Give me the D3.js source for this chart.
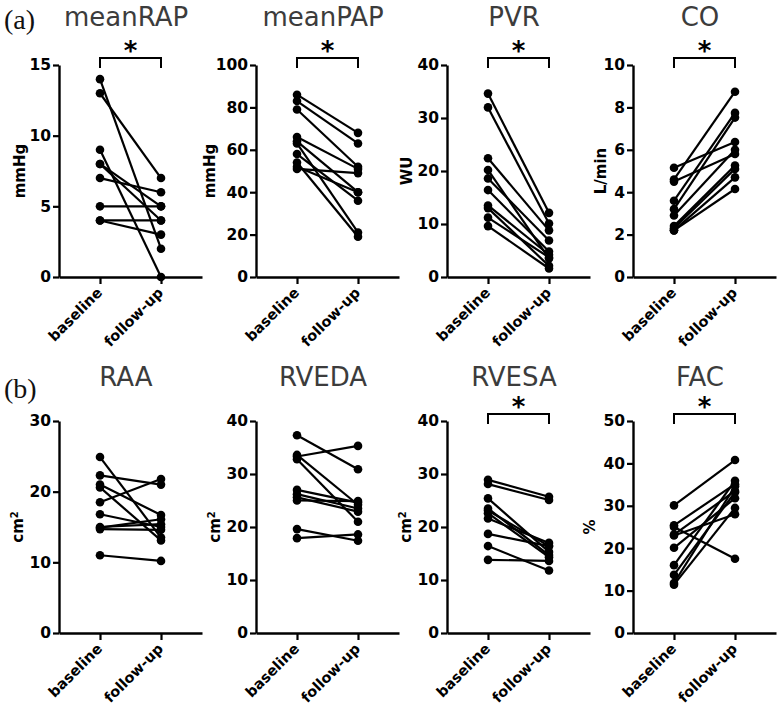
<!DOCTYPE html>
<html><head><meta charset="utf-8">
<script src="https://cdn.jsdelivr.net/npm/d3@7"></script>
<style>body{margin:0;background:#fff}</style></head>
<body>
<script>
// ---------- data ----------
const groups = ["baseline", "follow-up"];
const titles = ["meanRAP", "meanPAP", "PVR", "CO", "RAA", "RVEDA", "RVESA", "FAC"];
const units = ["mmHg", "mmHg", "WU", "L/min", "cm2", "cm2", "cm2", "%"];
const yMaxes = [15, 100, 40, 10, 30, 40, 40, 50];
const yTickSteps = [5, 20, 10, 2, 10, 10, 10, 10];
const significant = [true, true, true, true, false, false, true, true];
const panelLabels = ["(a)", "(b)"];

const meanRAP_baseline = [14, 13, 9, 8, 8, 7, 5, 4, 4];
const meanRAP_followup = [2, 7, 0, 5, 4, 6, 5, 4, 3];
const meanPAP_baseline = [86, 83, 79, 66, 64, 63, 58, 54, 52, 51];
const meanPAP_followup = [68, 63, 52, 51, 40, 21, 36, 19, 40, 49];
const PVR_baseline = [34.6, 32, 22.4, 20.2, 18.6, 16.4, 13.5, 13.0, 11.2, 9.6];
const PVR_followup = [12.1, 10.1, 8.8, 3.5, 6.9, 4.8, 4.2, 2.1, 3.7, 1.6];
const CO_baseline = [5.15, 4.6, 4.5, 3.6, 3.2, 2.9, 2.4, 2.3, 2.2, 2.2];
const CO_followup = [6.37, 8.74, 5.8, 7.74, 7.52, 6.0, 5.26, 5.1, 4.7, 4.15];
const RAA_baseline = [24.9, 22.3, 21.0, 20.6, 18.5, 16.8, 15.0, 14.9, 14.7, 11.0];
const RAA_followup = [13.5, 21.0, 16.7, 13.1, 21.8, 15.0, 15.4, 16.1, 14.6, 10.2];
const RVEDA_baseline = [37.3, 33.3, 33.6, 32.8, 27.0, 26.2, 25.6, 25.0, 19.6, 17.9];
const RVEDA_followup = [30.9, 35.3, 24.2, 21.0, 24.6, 23.5, 22.9, 24.9, 17.4, 18.6];
const RVESA_baseline = [28.9, 28.1, 25.4, 23.5, 23.1, 22.6, 21.6, 18.7, 16.4, 13.8];
const RVESA_followup = [25.7, 25.1, 15.3, 14.7, 16.4, 14.3, 17.0, 16.4, 11.8, 13.6];
const FAC_baseline = [30.1, 25.4, 25.0, 23.2, 23.0, 20.1, 16.0, 13.7, 11.8, 11.4];
const FAC_followup = [40.8, 35.1, 17.5, 33.5, 28.0, 31.8, 35.9, 33.2, 34.6, 29.5];

const baselines = [meanRAP_baseline, meanPAP_baseline, PVR_baseline, CO_baseline,
                   RAA_baseline, RVEDA_baseline, RVESA_baseline, FAC_baseline];
const followups = [meanRAP_followup, meanPAP_followup, PVR_followup, CO_followup,
                   RAA_followup, RVEDA_followup, RVESA_followup, FAC_followup];

// ---------- layout ----------
const W = 779, H = 706;
const axisXs = [59, 256, 447, 633];
const rowTop = [65, 421], rowZero = [277, 633], titleY = [26, 386], tagY = [29, 398];
const unitOffsets = [39, 46, 40, 32, 41, 41, 41, 43];
const plotW = 143;

const svg = d3.select("body").append("svg").attr("width", W).attr("height", H)
  .style("font-family", "'DejaVu Sans', sans-serif");

panelLabels.forEach((t, r) => {
  svg.append("text").attr("x", 4).attr("y", tagY[r]).text(t)
    .style("font-family", "'Liberation Serif', 'DejaVu Serif', serif")
    .style("font-size", "28px").attr("fill", "#111");
});

titles.forEach((title, i) => {
  const r = Math.floor(i / 4), c = i % 4;
  const ax = axisXs[c], top = rowTop[r], zero = rowZero[r];
  const g = svg.append("g");

  const x = d3.scalePoint().domain(groups).range([ax, ax + plotW]).padding(0.672);
  const y = d3.scaleLinear().domain([0, yMaxes[i]]).range([zero, top]);

  // title
  g.append("text").attr("x", ax + 67).attr("y", titleY[r]).attr("text-anchor", "middle")
    .attr("fill", "#3c3c3c").style("font-size", "26px").text(title);

  // y axis
  const yAxis = d3.axisLeft(y)
    .tickValues(d3.range(0, yMaxes[i] + yTickSteps[i] / 2, yTickSteps[i]))
    .tickSize(6).tickSizeOuter(0).tickPadding(2);
  const ya = g.append("g").attr("transform", `translate(${ax},0)`).call(yAxis);
  ya.select(".domain").attr("stroke", "#000").attr("stroke-width", 2.4);
  ya.selectAll(".tick line").attr("stroke", "#000").attr("stroke-width", 2.2);
  ya.selectAll(".tick text").style("font-size", "15.5px").style("font-weight", "bold")
    .attr("fill", "#000").style("font-family", "'DejaVu Sans', sans-serif");

  // x axis
  const xAxis = d3.axisBottom(x).tickSize(7).tickSizeOuter(0);
  const xa = g.append("g").attr("transform", `translate(0,${zero})`).call(xAxis);
  xa.select(".domain").attr("stroke", "#000").attr("stroke-width", 2.4);
  xa.selectAll(".tick line").attr("stroke", "#000").attr("stroke-width", 2.2);
  xa.selectAll(".tick text")
    .attr("x", 0).attr("y", 0).attr("dy", "0.35em")
    .attr("transform", "translate(-1,13) rotate(-45)")
    .style("text-anchor", "end").style("font-size", "14.5px").style("font-weight", "bold")
    .attr("fill", "#000").style("font-family", "'DejaVu Sans', sans-serif");

  // unit label
  const ut = g.append("text")
    .attr("transform", `translate(${ax - unitOffsets[i]},${(top + zero) / 2}) rotate(-90)`)
    .attr("text-anchor", "middle").attr("dy", "0.35em")
    .style("font-size", "15px").style("font-weight", "bold").attr("fill", "#000");
  if (units[i] === "cm2") {
    ut.append("tspan").text("cm");
    ut.append("tspan").text("2").attr("dy", "-0.55em").style("font-size", "10px");
  } else {
    ut.text(units[i]);
  }

  // paired lines
  const b = baselines[i], f = followups[i];
  const pairs = b.map((v, k) => [v, f[k]]);
  g.append("g").selectAll("line").data(pairs).join("line")
    .attr("x1", x(groups[0])).attr("x2", x(groups[1]))
    .attr("y1", d => y(d[0])).attr("y2", d => y(d[1]))
    .attr("stroke", "#000").attr("stroke-width", 2.2);
  const pts = [];
  pairs.forEach(d => { pts.push([groups[0], d[0]]); pts.push([groups[1], d[1]]); });
  g.append("g").selectAll("circle").data(pts).join("circle")
    .attr("cx", d => x(d[0])).attr("cy", d => y(d[1])).attr("r", 4.3).attr("fill", "#000");

  // significance bracket
  if (significant[i]) {
    const x0 = x(groups[0]), x1 = x(groups[1]);
    g.append("path")
      .attr("d", `M${x0},${top + 3}V${top - 7}H${x1}V${top + 3}`)
      .attr("fill", "none").attr("stroke", "#000").attr("stroke-width", 2);
    g.append("text").attr("x", (x0 + x1) / 2).attr("y", top - 5)
      .attr("text-anchor", "middle").style("font-size", "26px").style("font-weight", "bold")
      .text("*");
  }
});
</script>
</body></html>
